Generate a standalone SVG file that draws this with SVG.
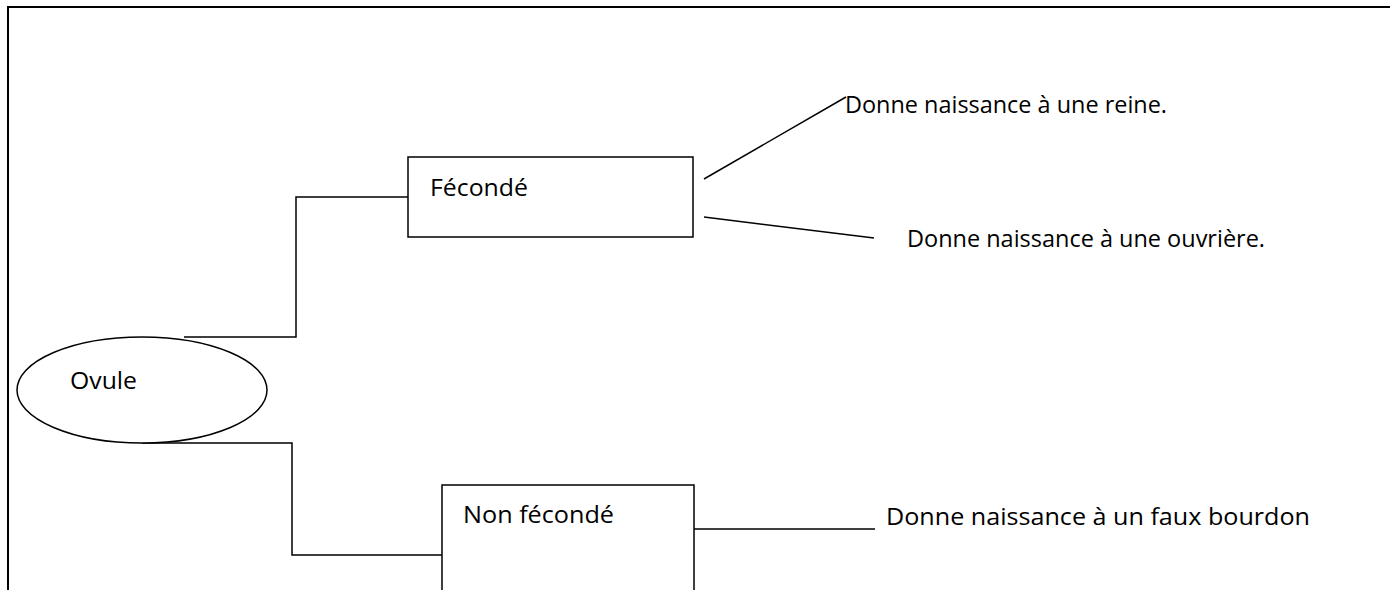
<svg xmlns="http://www.w3.org/2000/svg" width="1390" height="590" viewBox="0 0 1390 590">
<style>
.ln{fill:none;stroke:#000;stroke-width:1.5}
.shape{fill:#fff;stroke:#000;stroke-width:1.5}
.t{font-family:"Open Sans","Liberation Sans",sans-serif;font-size:23.5px;fill:#000}
</style>
<rect width="1390" height="590" fill="#fff"/>
<g id="frame">
<path d="M8,590 V7 H1390" fill="none" stroke="#000" stroke-width="2"/>
</g>
<g id="connectors">
<polyline class="ln" points="184,337 296,337 296,197 408,197"/>
<polyline class="ln" points="142,443 292,443 292,555 442,555"/>
<line class="ln" x1="704" y1="179" x2="846" y2="97"/>
<line class="ln" x1="704" y1="217" x2="874" y2="238"/>
<line class="ln" x1="694" y1="529" x2="875" y2="529"/>
</g>
<g id="ovule">
<ellipse class="shape" cx="142" cy="390" rx="125" ry="53"/>
<text class="t" x="70" y="389" textLength="67" lengthAdjust="spacingAndGlyphs">Ovule</text>
</g>
<g id="feconde">
<rect class="shape" x="408" y="157" width="285" height="80"/>
<text class="t" x="430" y="196" textLength="98" lengthAdjust="spacingAndGlyphs">Fécondé</text>
</g>
<g id="non-feconde">
<rect class="shape" x="442" y="485" width="252" height="120"/>
<text class="t" x="463" y="523" textLength="151" lengthAdjust="spacingAndGlyphs">Non fécondé</text>
</g>
<g id="reine">
<text class="t" x="845" y="113" textLength="322" lengthAdjust="spacingAndGlyphs">Donne naissance à une reine.</text>
</g>
<g id="ouvriere">
<text class="t" x="907" y="247" textLength="358" lengthAdjust="spacingAndGlyphs">Donne naissance à une ouvrière.</text>
</g>
<g id="faux-bourdon">
<text class="t" x="886" y="525" textLength="424" lengthAdjust="spacingAndGlyphs">Donne naissance à un faux bourdon</text>
</g>
</svg>
